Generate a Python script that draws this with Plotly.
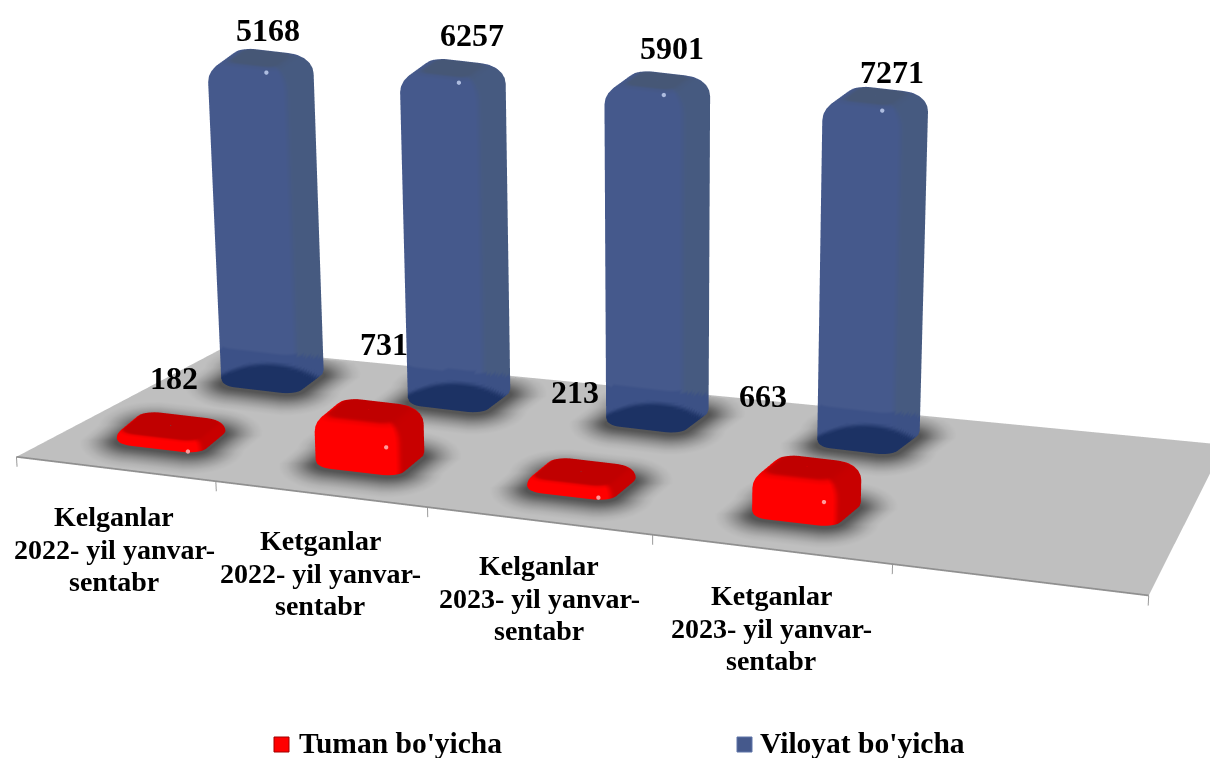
import numpy as np
import plotly.graph_objects as go

# ---------- data ----------
categories = ["Kelganlar<br>2022- yil yanvar-<br>sentabr",
              "Ketganlar<br>2022- yil yanvar-<br>sentabr",
              "Kelganlar<br>2023- yil yanvar-<br>sentabr",
              "Ketganlar<br>2023- yil yanvar-<br>sentabr"]
tuman = [182, 731, 213, 663]
viloyat = [5168, 6257, 5901, 7271]
series_names = ["Tuman bo'yicha", "Viloyat bo'yicha"]

# ---------- page / scene set-up ----------
W_PX, H_PX = 1210, 758
PITCH = np.radians(30)
RANGE = 700.0
EYE_DIST = 1.5
SCENE_ZOOM = 3.685
FLOOR = dict(fl=(15, 457), fr=(1150, 596), br=(1226, 445), bl=(222, 348))
N_SLOTS = 5
WARP = 0.855
SLOT_SHIFT = 0.002
ROW_T = {"tuman": 0.28, "viloyat": 0.80}
# value axis of the chart as drawn in the picture (it is not linear)
AXIS_VAL = [100, 182, 213, 663, 731, 5168, 5901, 6257, 7271]
AXIS_PX = [7, 12, 14, 45, 51, 322, 339, 331, 345]


def value_height(v):
    return float(np.interp(np.log(v), np.log(AXIS_VAL), AXIS_PX))


def floor_uv(s, t):
    sw = s * WARP / (1 - s + s * WARP)
    p = {k: np.array(val, float) for k, val in FLOOR.items()}
    front = p["fl"] * (1 - sw) + p["fr"] * sw
    back = p["bl"] * (1 - sw) + p["br"] * sw
    return front * (1 - t) + back * t


def to_model(u, v, h=0.0):
    u = np.asarray(u, float)
    v = np.asarray(v, float)
    h = np.broadcast_to(np.asarray(h, float), u.shape)
    u2 = u + (u - 660) * 1e-4 * h
    return u2 - W_PX / 2, (H_PX / 2 - v) / np.sin(PITCH), h / np.cos(PITCH)


def hex2rgb(c):
    return np.array([int(c[i:i + 2], 16) for i in (1, 3, 5)], float)


def rgb2hex(c):
    c = np.clip(np.round(c), 0, 255).astype(int)
    return "#%02x%02x%02x" % tuple(c)


def lerp(a, b, w):
    return a * (1 - w) + b * w


def smooth(e0, e1, x):
    w = np.clip((x - e0) / (e1 - e0), 0, 1)
    return w * w * (3 - 2 * w)


def rounded_rect(rho=0.4, n_corner=9, n_edge=7):
    """unit rounded rectangle: points (a, b) and outward normals, counter-clockwise"""
    pts, nrm = [], []
    centres = [(1 - rho, -1 + rho, -90), (1 - rho, 1 - rho, 0),
               (-1 + rho, 1 - rho, 90), (-1 + rho, -1 + rho, 180)]
    for cx, cy, start in centres:
        for k in range(n_corner):
            ang = np.radians(start + 90 * k / (n_corner - 1))
            pts.append((cx + rho * np.cos(ang), cy + rho * np.sin(ang)))
            nrm.append((np.cos(ang), np.sin(ang)))
        # straight edge to next corner
        ang = np.radians(start + 90)
        nx, ny = np.cos(ang), np.sin(ang)
        lx, ly = -ny, nx
        px, py = cx + rho * nx, cy + rho * ny
        for k in range(1, n_edge + 1):
            d = (2 - 2 * rho) * k / (n_edge + 1)
            pts.append((px + lx * d, py + ly * d))
            nrm.append((nx, ny))
    return np.array(pts), np.array(nrm)


PERIM, NORM = rounded_rect()
NP = len(PERIM)


def ring_mesh(rows):
    xs, ys, zs, i, j, k = [], [], [], [], [], []
    for r, (x, y, z) in enumerate(rows):
        xs += list(x)
        ys += list(y)
        zs += list(z)
        if r < len(rows) - 1:
            for n in range(NP):
                m = (n + 1) % NP
                a, b = r * NP + n, r * NP + m
                c, d = (r + 1) * NP + m, (r + 1) * NP + n
                i += [a, a]
                j += [b, c]
                k += [c, d]
    return xs, ys, zs, i, j, k


FLAT = dict(ambient=1.0, diffuse=0.0, specular=0.0, fresnel=0.0, roughness=1.0)
FLOOR_COLOR = "#bfbfbf"
traces = []

# ---------- floor ----------
corners = [floor_uv(0, 0), floor_uv(1, 0), floor_uv(1, 1), floor_uv(0, 1)]
fx, fy, fz = to_model([c[0] for c in corners], [c[1] for c in corners], 0.0)
traces.append(go.Mesh3d(x=fx, y=fy, z=fz, i=[0, 0], j=[1, 2], k=[2, 3],
                        vertexcolor=[FLOOR_COLOR] * 4,
                        lighting=FLAT, hoverinfo="skip", showlegend=False))
# front edge and ticks
edge_u, edge_v = [], []
for n in range(N_SLOTS + 1):
    p = floor_uv(n / N_SLOTS, 0)
    edge_u.append(p[0])
    edge_v.append(p[1])
ex, ey, ez = to_model(edge_u, edge_v, 0.0)
traces.append(go.Scatter3d(x=ex, y=ey, z=ez, mode="lines", line=dict(color="#8f8f8f", width=3.5),
                           hoverinfo="skip", showlegend=False))
for u, v in zip(edge_u, edge_v):
    tx, ty, tz = to_model([u, u], [v, v], [0, -10])
    traces.append(go.Scatter3d(x=tx, y=ty, z=tz, mode="lines", line=dict(color="#9a9a9a", width=2),
                               hoverinfo="skip", showlegend=False))

# ---------- bars ----------
STYLE = {
    "tuman": dict(w=(89, 10.5), d=(30, -25), front="#ff0000", right="#c80000", top="#c00000",
                  halo_z=0.6, radius=18, top_from=0.55, top_to=0.9),
    "viloyat": dict(w=(81, 9.6), d=(32, -24), front="#45598c", right="#465a80", top="#465776",
                    halo_z=0.3, radius=20, top_from=0.75, top_to=1.0),
}


def edge_v_at(u, a, b):
    return a[1] + (u - a[0]) * (b[1] - a[1]) / (b[0] - a[0])


def back_edge_v(u):
    return edge_v_at(u, FLOOR["bl"], FLOOR["br"])


def front_edge_v(u):
    return edge_v_at(u, FLOOR["fl"], FLOOR["fr"])


for key, values in (("viloyat", viloyat), ("tuman", tuman)):
    st = STYLE[key]
    W, D = np.array(st["w"], float), np.array(st["d"], float)
    front, right, top = hex2rgb(st["front"]), hex2rgb(st["right"]), hex2rgb(st["top"])
    dark, thru = hex2rgb("#1c3264"), hex2rgb("#3b5086")
    for idx, val in enumerate(values):
        c = floor_uv((idx + 0.5) / N_SLOTS + SLOT_SHIFT, ROW_T[key])
        H = value_height(val)
        r = min(st["radius"], H * 0.75)
        size = np.hypot(*W) / 2
        su = c[0] + PERIM[:, 0] * W[0] / 2 + PERIM[:, 1] * D[0] / 2
        sv = c[1] + PERIM[:, 0] * W[1] / 2 + PERIM[:, 1] * D[1] / 2

        # halo on the floor
        halo_rows, halo_cols = [], []
        margins = [-8, 1, 8, 15, 22, 30, 38]
        shades = [0.0, 0.0, 0.22, 0.48, 0.7, 0.9, 1.0]
        dark_floor, floor_col = hex2rgb("#555555"), hex2rgb(FLOOR_COLOR)
        for m, sh in zip(margins, shades):
            hu = su + m * NORM[:, 0] * 1.0
            hv = sv - m * NORM[:, 1] * 0.55 + 1
            hv = np.clip(hv, back_edge_v(hu) + 1.5, front_edge_v(hu) - 1.5)
            x, y, z = to_model(hu, hv, 0.0)
            halo_rows.append((x, y, z + st["halo_z"]))
            halo_cols += [rgb2hex(lerp(dark_floor, floor_col, sh))] * NP
        xs, ys, zs, i, j, k = ring_mesh(halo_rows)
        traces.append(go.Mesh3d(x=xs, y=ys, z=zs, i=i, j=j, k=k, vertexcolor=halo_cols,
                                lighting=FLAT, hoverinfo="skip", showlegend=False))

        # body rows: (height, inset, top-blend)
        rows = [(0.0, 0.07, 0.0), (min(2.0, H * .1), 0.02, 0.0), (min(5.0, H * .25), 0.0, 0.0)]
        body_top = H - r
        hh = rows[-1][0]
        step = 3.0
        while hh + step < body_top:
            hh += step if hh < 70 else 40
            if hh < body_top:
                rows.append((hh, 0.0, 0.0))
        for deg in (0, 15, 30, 45, 60, 75, 90):
            th = np.radians(deg)
            rows.append((H - r + r * np.sin(th), (r / size) * (1 - np.cos(th)), deg / 90.0))
        for ins_extra in (0.25, 0.6, 0.98):
            ins0 = r / size
            rows.append((H, ins0 + (1 - ins0) * ins_extra, 1.0))

        mesh_rows, cols = [], []
        for h, ins, tb in rows:
            u = c[0] + (su - c[0]) * (1 - ins)
            v = c[1] + (sv - c[1]) * (1 - ins)
            mesh_rows.append(to_model(u, v, h))
            for n in range(NP):
                na, nb = NORM[n]
                side = lerp(front, right, smooth(0.7, 1.0, na))
                col = lerp(side, top, smooth(st["top_from"], st["top_to"], tb))
                if key == "viloyat":
                    # the floor and the dark pool seen through the translucent bar
                    sy = v[n] - h
                    if sy > back_edge_v(u[n]):
                        col = lerp(col, thru, 0.9)
                    arc = c[1] - 15 + 13 * ((u[n] - c[0] + 5) / 50) ** 2
                    col = lerp(col, dark, smooth(arc - 3, arc + 3, sy))
                cols.append(rgb2hex(col))
        xs, ys, zs, i, j, k = ring_mesh(mesh_rows)
        traces.append(go.Mesh3d(x=xs, y=ys, z=zs, i=i, j=j, k=k, vertexcolor=cols,
                                lighting=FLAT, hoverinfo="skip", showlegend=False))

        # highlight
        hl_a, hl_h = (0.55, H + 6) if key == "viloyat" else (0.72, H * 0.7)
        hu = c[0] + hl_a * W[0] / 2 - D[0] / 2
        hv = c[1] + hl_a * W[1] / 2 - D[1] / 2 + 4
        x, y, z = to_model([hu], [hv], hl_h)
        traces.append(go.Scatter3d(x=x, y=y - 4, z=z, mode="markers",
                                   marker=dict(size=2.5, color="#aebde0" if key == "viloyat" else "#ff9a9a",
                                               line=dict(width=0)),
                                   hoverinfo="skip", showlegend=False))

fig = go.Figure(traces)

# ---------- text ----------
SERIF = "Liberation Serif"


def px_annot(text, u, v, size, xanchor="center"):
    fig.add_annotation(text="<b>%s</b>" % text, x=u / W_PX, y=1 - v / H_PX, xref="paper", yref="paper",
                       showarrow=False, xanchor=xanchor, yanchor="middle", borderpad=0,
                       font=dict(family=SERIF, size=size, color="#000000"))


VILOYAT_LABEL_POS = [(268, 30), (472, 35), (672, 48), (892, 72)]
TUMAN_LABEL_POS = [(174, 378), (384, 344), (575, 392), (763, 396)]
CATEGORY_POS = [(114, 549), (320, 573), (539, 598), (771, 628)]
LINE_STEP = 32.5
for val, pos in zip(viloyat, VILOYAT_LABEL_POS):
    px_annot(str(val), pos[0], pos[1], 32)
for val, pos in zip(tuman, TUMAN_LABEL_POS):
    px_annot(str(val), pos[0], pos[1], 32)
for cat, pos in zip(categories, CATEGORY_POS):
    for n, line in enumerate(cat.split("<br>")):
        px_annot(line, pos[0], pos[1] + (n - 1) * LINE_STEP, 28)

# legend
LEGEND = [(274, "#ff0000", "#a00000", 298), (737, "#45598c", "#5f74a8", 759)]
for (sx, col, edge, tx), name in zip(LEGEND, series_names):
    fig.add_shape(type="rect", xref="paper", yref="paper", x0=sx / W_PX, x1=(sx + 15) / W_PX,
                  y0=1 - 752 / H_PX, y1=1 - 737 / H_PX, fillcolor=col, line=dict(color=edge, width=1))
    px_annot(name, tx, 743, 29.5, xanchor="left")

hidden = dict(visible=False, range=[-RANGE, RANGE], showspikes=False)
fig.update_layout(
    width=W_PX, height=H_PX, margin=dict(l=0, r=0, t=0, b=0), paper_bgcolor="white",
    showlegend=False,
    scene=dict(
        domain=dict(x=[0, 1], y=[0, 1]),
        xaxis=hidden, yaxis=hidden, zaxis=hidden,
        aspectmode="manual", aspectratio=dict(x=SCENE_ZOOM, y=SCENE_ZOOM, z=SCENE_ZOOM),
        bgcolor="white",
        camera=dict(eye=dict(x=0, y=-EYE_DIST * float(np.cos(PITCH)), z=EYE_DIST * float(np.sin(PITCH))),
                    center=dict(x=0, y=0, z=0), up=dict(x=0, y=0, z=1),
                    projection=dict(type="orthographic")),
    ),
)
fig.write_html("out.html", config=dict(displayModeBar=False),
               post_script="document.body.style.margin='0';document.documentElement.style.overflow='hidden';")
